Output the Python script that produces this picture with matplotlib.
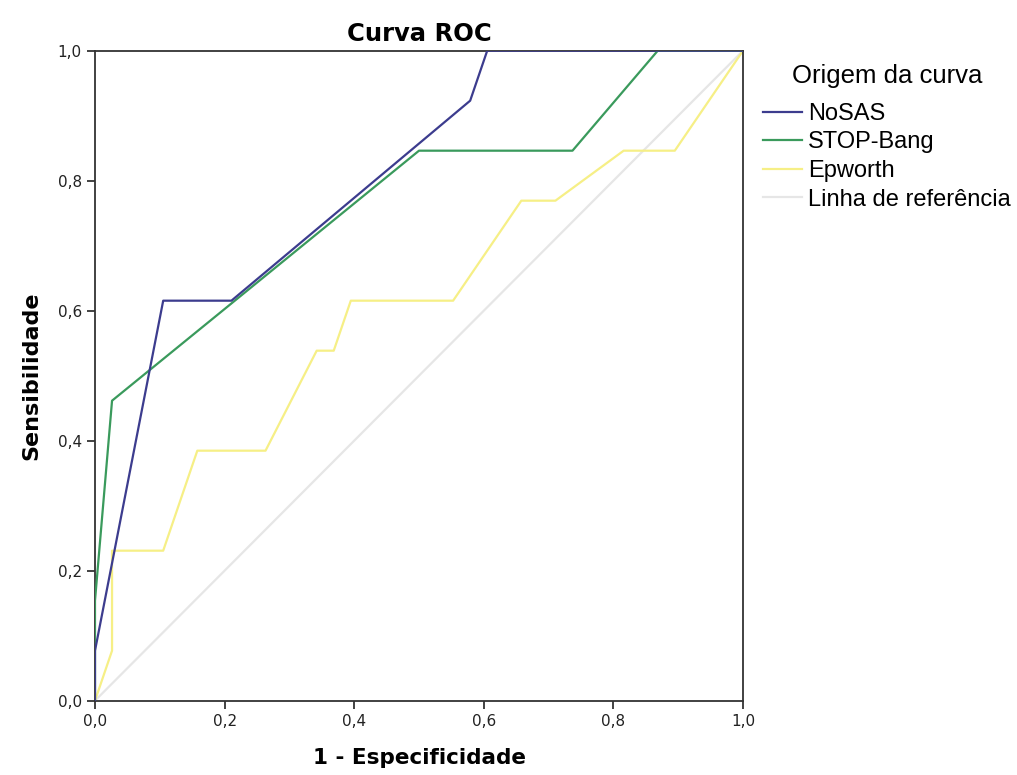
import numpy as np
import matplotlib.pyplot as plt
from matplotlib.ticker import FuncFormatter

# ROC points (13 positives, 38 negatives)
nosas_fpr = [0, 0, 4/38, 8/38, 22/38, 23/38, 1]
nosas_tpr = [0, 1/13, 8/13, 8/13, 12/13, 1, 1]

stop_fpr = [0, 0, 1/38, 19/38, 28/38, 33/38, 1]
stop_tpr = [0, 2/13, 6/13, 11/13, 11/13, 1, 1]

epw_fpr = [0, 1/38, 1/38, 4/38, 6/38, 10/38, 13/38, 14/38, 15/38, 21/38,
           25/38, 27/38, 31/38, 34/38, 1]
epw_tpr = [0, 1/13, 3/13, 3/13, 5/13, 5/13, 7/13, 7/13, 8/13, 8/13,
           10/13, 10/13, 11/13, 11/13, 1]

ref_x = [0, 1]
ref_y = [0, 1]

labels = ['NoSAS', 'STOP-Bang', 'Epworth', 'Linha de referência']
colors = ['#3c3c8e', '#3a9a5c', '#f6ef86', '#e6e6e6']

fig = plt.figure(figsize=(10.17, 7.75), dpi=100)
ax = fig.add_axes([0.0934, 0.0959, 0.6372, 0.8387])

lines = []
lines += ax.plot(nosas_fpr, nosas_tpr, color=colors[0], lw=1.6, zorder=4)
lines += ax.plot(stop_fpr, stop_tpr, color=colors[1], lw=1.6, zorder=3)
lines += ax.plot(epw_fpr, epw_tpr, color=colors[2], lw=1.6, zorder=2)
lines += ax.plot(ref_x, ref_y, color=colors[3], lw=1.6, zorder=1)

ax.set_xlim(0, 1)
ax.set_ylim(0, 1)
ticks = np.arange(0, 1.01, 0.2)
ax.set_xticks(ticks)
ax.set_yticks(ticks)
fmt = FuncFormatter(lambda v, p: f'{v:.1f}'.replace('.', ','))
ax.xaxis.set_major_formatter(fmt)
ax.yaxis.set_major_formatter(fmt)
ax.tick_params(direction='out', length=6, width=1.2, labelsize=11, colors='#222222')
for s in ax.spines.values():
    s.set_linewidth(1.3)
    s.set_color('#333333')

ax.set_title('Curva ROC', fontsize=17.5, fontweight='bold', pad=7)
ax.set_xlabel('1 - Especificidade', fontsize=15.5, fontweight='bold', labelpad=14)
ax.set_ylabel('Sensibilidade', fontsize=16, fontweight='bold', labelpad=12)

# legend title drawn separately to get the gap of the original
fig.text(887/1017, 1 - 76/775, 'Origem da curva', family='Liberation Sans',
         fontsize=18.5, ha='center', va='center')
leg = fig.legend(lines, labels, loc='upper left', bbox_to_anchor=(0.739, 1 - 91/775),
                 frameon=False, prop={'family': 'Liberation Sans', 'size': 17},
                 handlelength=1.65, handletextpad=0.25, labelspacing=0.28,
                 borderpad=0)

fig.savefig('out.png', dpi=100)
